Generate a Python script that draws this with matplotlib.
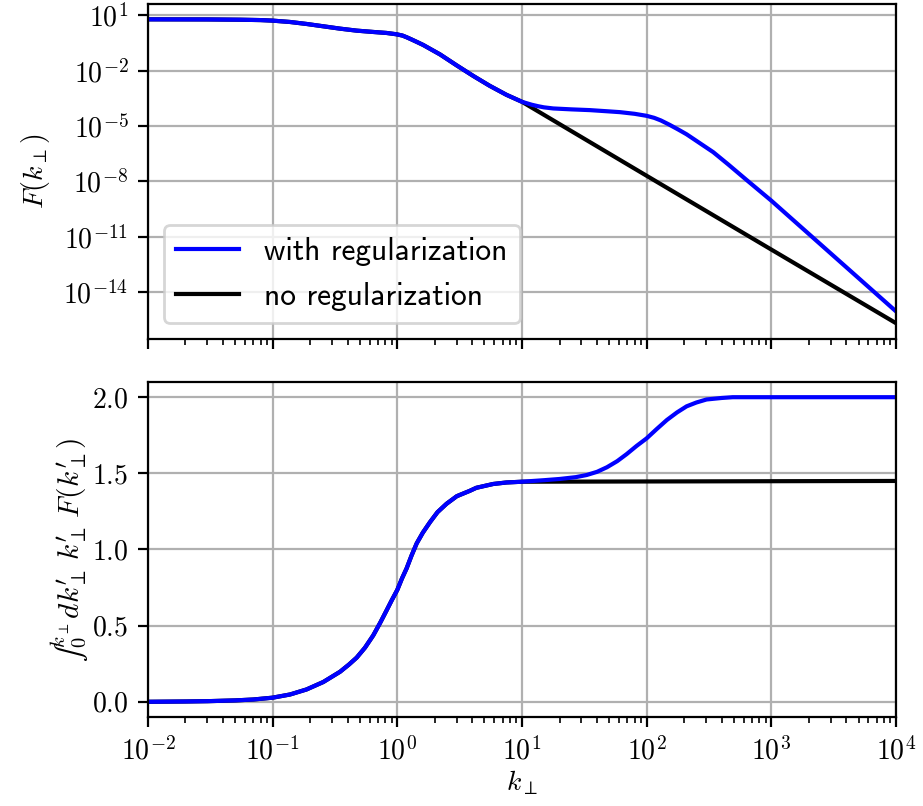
import numpy as np
import matplotlib
matplotlib.use("Agg")
import matplotlib.pyplot as plt
from matplotlib.ticker import NullLocator, FixedLocator
from matplotlib.mathtext import MathTextParser

plt.rcParams['font.family'] = 'serif'
plt.rcParams['font.serif'] = ['cmr10']
plt.rcParams['mathtext.fontset'] = 'cm'
plt.rcParams['axes.formatter.use_mathtext'] = True

# F(k), stored as log10 values
k_low = [0.01, 0.03, 0.055, 0.08, 0.1, 0.138, 0.1875, 0.255, 0.347, 0.472, 0.641, 0.82,
         0.986, 1.1, 1.187, 1.3, 1.45, 1.614, 1.8, 2.2, 3.0, 4.07, 5.5, 7.5, 10]
logF_low = [0.78, 0.775, 0.76, 0.74, 0.71, 0.637, 0.529, 0.403, 0.276, 0.168, 0.096, 0.042,
            -0.03, -0.10, -0.19, -0.31, -0.46, -0.61, -0.79, -1.12, -1.72, -2.29, -2.82,
            -3.31, -3.69]

k_reg_high = [10, 12, 13.5, 15, 17.8, 25, 35, 50, 61, 80, 100, 115, 130, 153, 180, 209,
              260, 342, 450, 631, 1000, 1585, 2512, 3981, 6310, 10000]
logF_reg_high = [-3.69, -3.85, -3.93, -3.99, -4.05, -4.10, -4.14, -4.21, -4.25, -4.34, -4.45,
                 -4.56, -4.70, -4.94, -5.20, -5.45, -5.88, -6.42, -7.08, -7.92, -9.05,
                 -10.25, -11.45, -12.65, -13.85, -15.05]

k_none_high = [10, 100, 1000, 10000]
logF_none_high = [-3.69, -7.70, -11.70, -15.69]

# cumulative integral
k_int_low = [0.01, 0.02, 0.03, 0.05, 0.07, 0.1, 0.138, 0.187, 0.255, 0.347, 0.41, 0.472,
             0.55, 0.641, 0.73, 0.82, 0.9, 1.0, 1.09, 1.186, 1.3, 1.43, 1.6, 1.83, 2.1,
             2.48, 3.0, 3.81, 4.3, 5.86, 7.5, 10]
I_low = [0.0, 0.002, 0.004, 0.009, 0.015, 0.027, 0.048, 0.081, 0.13, 0.197, 0.245, 0.29,
         0.355, 0.436, 0.52, 0.60, 0.665, 0.735, 0.81, 0.875, 0.96, 1.04, 1.11, 1.18, 1.245,
         1.30, 1.35, 1.385, 1.405, 1.43, 1.44, 1.445]

k_int_reg_high = [10, 15, 20, 27, 33, 40, 48, 58, 69, 83, 100, 120, 145, 175, 209, 250,
                  302, 400, 490, 1000, 10000]
I_reg_high = [1.445, 1.455, 1.463, 1.475, 1.489, 1.51, 1.54, 1.58, 1.626, 1.68, 1.73,
              1.79, 1.85, 1.90, 1.94, 1.965, 1.985, 1.995, 2.0, 2.0, 2.0]

k_int_none_high = [10, 10000]
I_none_high = [1.45, 1.45]

k_reg = k_low + k_reg_high[1:]
F_reg = 10.0 ** np.array(logF_low + logF_reg_high[1:])
k_none = k_low + k_none_high[1:]
F_none = 10.0 ** np.array(logF_low + logF_none_high[1:])

ki_reg = k_int_low + k_int_reg_high[1:]
I_reg = I_low + I_reg_high[1:]
ki_none = k_int_low + k_int_none_high[1:]
I_none = I_low + I_none_high[1:]

# unicode integral sign -> text-size glyph instead of the big cmex one
int_label = "$\u222b_0^{k_\\perp} dk^\\prime_\\perp\\, k^\\prime_\\perp\\, F(k^\\prime_\\perp)$"
try:
    MathTextParser('path').parse(int_label)
except Exception:
    int_label = r"$\int_0^{k_\perp} dk^\prime_\perp\, k^\prime_\perp\, F(k^\prime_\perp)$"

fig, (ax1, ax2) = plt.subplots(2, 1, sharex=True, figsize=(4.615, 4.03), dpi=200)
fig.subplots_adjust(left=0.1603, right=0.9708, bottom=0.1104, top=0.995, hspace=0.128)

ax1.loglog(k_none, F_none, color='k', label='no regularization')
ax1.loglog(k_reg, F_reg, color='b', label='with regularization')
ax1.set_xlim(1e-2, 1e4)
ax1.set_ylim(10 ** -16.55, 10 ** 1.61)
ax1.yaxis.set_major_locator(FixedLocator([1e1, 1e-2, 1e-5, 1e-8, 1e-11, 1e-14]))
ax1.yaxis.set_minor_locator(NullLocator())
ax1.set_ylabel(r'$F(k_\perp)$')
ax1.grid(True)
h, l = ax1.get_legend_handles_labels()
ax1.legend(h[::-1], l[::-1], loc='lower left', prop={'family': 'cmss10', 'size': 11.3})

ax2.semilogx(ki_none, I_none, color='k')
ax2.semilogx(ki_reg, I_reg, color='b')
ax2.set_ylabel(int_label, fontsize=10.6)
ax2.yaxis.set_label_coords(-0.076, 0.5)
ax2.set_xlabel(r'$k_\perp$', labelpad=1)
ax2.grid(True)

fig.savefig('out.png', dpi=200)
